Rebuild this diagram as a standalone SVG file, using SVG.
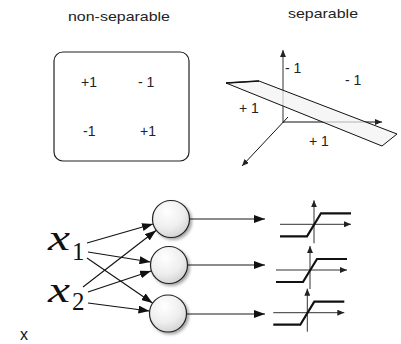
<svg xmlns="http://www.w3.org/2000/svg" width="401" height="344" viewBox="0 0 401 344">
<style>
.lbl{font-family:"Liberation Sans",Arial,sans-serif;font-size:14px;fill:#222}
.ttl{font-family:"Liberation Sans",Arial,sans-serif;font-size:13.5px;fill:#222}
.mx{font-family:"Liberation Serif","Times New Roman",serif;font-style:italic;font-size:36px;fill:#111}
.sub{font-family:"Liberation Serif","Times New Roman",serif;font-size:25px;fill:#111}
.ax{stroke:#333;stroke-width:1;fill:none}
.in{stroke:#111;stroke-width:1.1;fill:none;marker-end:url(#ah)}
.out{stroke:#666;stroke-width:1.6;fill:none;marker-end:url(#oh)}
.node{fill:url(#cg);stroke:#222;stroke-width:1.2;filter:url(#sh)}
</style>
<defs>
<marker id="ah" markerUnits="userSpaceOnUse" markerWidth="12" markerHeight="8" refX="11" refY="4" orient="auto"><path d="M0,0 L11,4 L0,8 z" fill="#111"/></marker>
<marker id="oh" markerUnits="userSpaceOnUse" markerWidth="12" markerHeight="8" refX="11" refY="4" orient="auto"><path d="M0,0 L11,4 L0,8 z" fill="#111"/></marker>
<marker id="sa" markerUnits="userSpaceOnUse" markerWidth="7" markerHeight="6" refX="7" refY="3" orient="auto"><path d="M0,0 L7,3 L0,6 z" fill="#222"/></marker>
<radialGradient id="cg" cx="0.4" cy="0.3" r="0.75">
<stop offset="0" stop-color="#ffffff"/>
<stop offset="0.6" stop-color="#eeeeee"/>
<stop offset="1" stop-color="#d0d0d0"/>
</radialGradient>
<filter id="sh" x="-30%" y="-30%" width="170%" height="170%">
<feDropShadow dx="2" dy="2" stdDeviation="1.5" flood-color="#000" flood-opacity="0.35"/>
</filter>
<g id="sig">
<line class="ax" x1="0" y1="19" x2="0" y2="-24" marker-end="url(#sa)"/>
<line class="ax" x1="-34" y1="0" x2="37" y2="0" marker-end="url(#sa)"/>
<polyline points="-34,12 -7,12 7,-11 37,-11" fill="none" stroke="#111" stroke-width="2.2"/>
</g>
</defs>

<g id="title-nonsep"><text class="ttl" x="68" y="21" textLength="102" lengthAdjust="spacingAndGlyphs">non-separable</text></g>
<g id="title-sep"><text class="ttl" x="288" y="18" textLength="70" lengthAdjust="spacingAndGlyphs">separable</text></g>

<g id="box">
<rect x="54" y="52" width="135" height="109" rx="9" fill="none" stroke="#222" stroke-width="1.2"/>
<text class="lbl" x="81" y="87">+1</text>
<text class="lbl" x="138" y="87">- 1</text>
<text class="lbl" x="83" y="136">-1</text>
<text class="lbl" x="140" y="136">+1</text>
</g>

<g id="plot3d">
<line x1="283" y1="123" x2="283" y2="50" stroke="#555" stroke-width="1.2" marker-end="url(#sa)"/>
<line x1="283" y1="122" x2="382" y2="122" stroke="#111" stroke-width="1" marker-end="url(#sa)"/>
<line x1="288" y1="117" x2="242" y2="166" stroke="#111" stroke-width="1" marker-end="url(#sa)"/>
<polygon points="226,83 259,81 397,134 382,146" fill="#f2f2f2" fill-opacity="0.72" stroke="#111" stroke-width="1" stroke-linejoin="round"/>
<line x1="226" y1="83" x2="259" y2="81" stroke="#111" stroke-width="1.5"/>
<text class="lbl" x="285" y="73">- 1</text>
<text class="lbl" x="345" y="85">- 1</text>
<text class="lbl" x="239" y="113">+ 1</text>
<text class="lbl" x="309" y="146">+ 1</text>
</g>

<g id="x1"><text class="mx" x="48" y="250" textLength="22" lengthAdjust="spacingAndGlyphs">x</text><text class="sub" x="72" y="260">1</text></g>
<g id="x2"><text class="mx" x="48" y="302" textLength="22" lengthAdjust="spacingAndGlyphs">x</text><text class="sub" x="72" y="310">2</text></g>
<g id="xlabel"><text x="20" y="340" style="font-family:'Liberation Sans',Arial,sans-serif;font-size:16px;fill:#111">x</text></g>

<g id="connectors">
<line class="in" x1="87" y1="243" x2="153" y2="224"/>
<line class="in" x1="88" y1="252" x2="150.5" y2="262"/>
<line class="in" x1="87" y1="258" x2="152.5" y2="303"/>
<line class="in" x1="83" y1="287" x2="156" y2="230.5"/>
<line class="in" x1="88" y1="292" x2="151" y2="271"/>
<line class="in" x1="88" y1="303" x2="149.5" y2="311"/>
<line class="out" x1="190" y1="219" x2="265" y2="219"/>
<line class="out" x1="188" y1="265" x2="265" y2="265"/>
<line class="out" x1="187" y1="314" x2="265" y2="314"/>
</g>

<g id="n1"><circle class="node" cx="171" cy="219" r="18.5"/></g>
<g id="n2"><circle class="node" cx="169" cy="265" r="18.5"/></g>
<g id="n3"><circle class="node" cx="168" cy="313.5" r="18.5"/></g>

<g id="s1"><use href="#sig" x="314" y="224.3"/></g>
<g id="s2"><use href="#sig" x="310" y="270"/></g>
<g id="s3"><use href="#sig" x="307.3" y="312.7"/></g>
</svg>
